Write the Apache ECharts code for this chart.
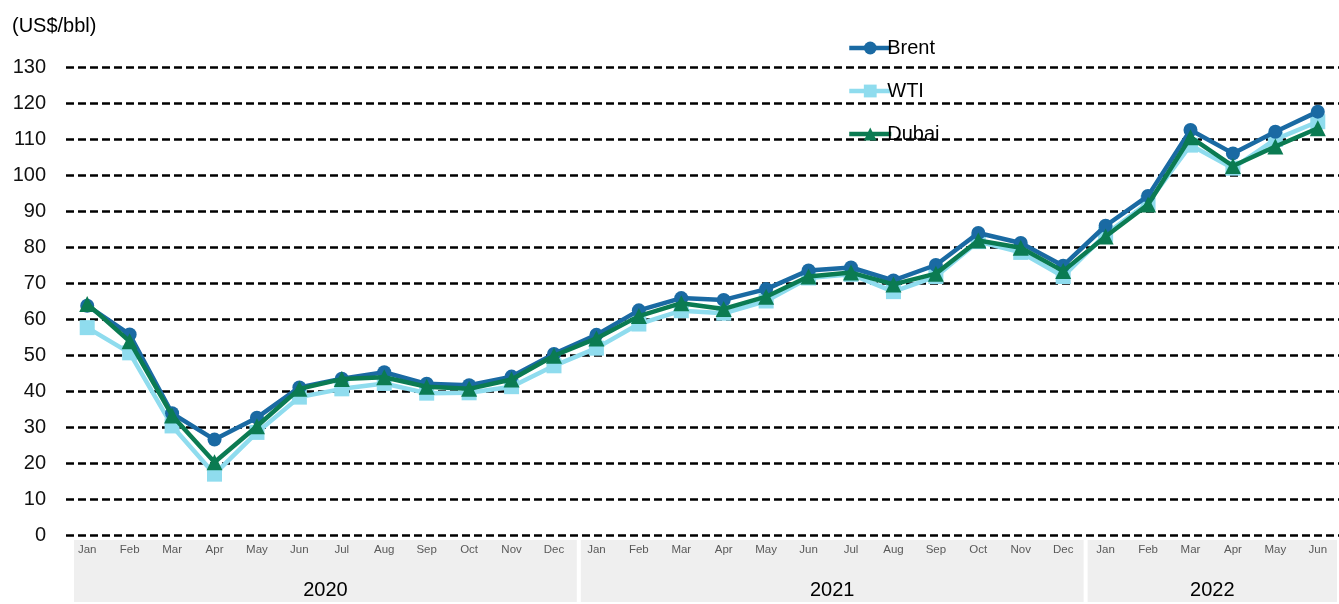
<!DOCTYPE html>
<html>
<head>
<meta charset="utf-8">
<script src="https://cdn.jsdelivr.net/npm/echarts@6/dist/echarts.min.js"></script>
<style>
  html, body { margin: 0; padding: 0; background: #fff; }
  #chart { width: 1339px; height: 604px; }
</style>
</head>
<body>
<div id="chart"></div>
<script>
// Monthly crude oil prices, Jan 2020 - Jun 2022 (US$/bbl)
const months = [
  'Jan','Feb','Mar','Apr','May','Jun','Jul','Aug','Sep','Oct','Nov','Dec',
  'Jan','Feb','Mar','Apr','May','Jun','Jul','Aug','Sep','Oct','Nov','Dec',
  'Jan','Feb','Mar','Apr','May','Jun'
];
const years = ['2020', '2021', '2022'];
const monthsPerYear = [12, 12, 6];

const brent = [
  63.7, 55.7, 33.8, 26.5, 32.6, 41.0, 43.4, 45.2, 42.0, 41.6, 44.0, 50.3,
  55.6, 62.4, 65.8, 65.3, 68.3, 73.5, 74.3, 70.7, 75.0, 83.9, 81.1, 74.8,
  85.9, 94.2, 112.5, 106.0, 112.0, 117.6
];
const wti = [
  57.6, 50.6, 30.3, 16.9, 28.5, 38.3, 40.6, 42.1, 39.4, 39.5, 41.2, 47.0,
  51.9, 58.6, 62.3, 61.6, 65.0, 71.4, 72.4, 67.6, 71.8, 81.5, 78.5, 71.8,
  83.5, 92.3, 108.3, 101.9, 109.9, 114.8
];
const dubai = [
  64.2, 53.8, 33.2, 20.2, 30.2, 40.6, 43.3, 43.8, 41.2, 40.6, 43.2, 49.8,
  54.6, 60.8, 64.4, 62.8, 66.2, 71.8, 72.9, 69.6, 72.6, 81.8, 79.8, 73.3,
  82.9, 91.8, 110.5, 102.5, 107.9, 113.0
];

const COLORS = { brent: '#1a6aa3', wti: '#8fdcee', dubai: '#0b7b52' };
const FONT = '"Liberation Sans", Arial, sans-serif';

const chart = echarts.init(document.getElementById('chart'), null, { renderer: 'canvas' });

// Grey year bands under the month labels, one stacked bar per year
const yearBands = years.map((y, i) => ({
  name: y,
  type: 'bar',
  xAxisIndex: 1,
  yAxisIndex: 1,
  stack: 'years',
  barWidth: '100%',
  z: 1,
  silent: true,
  data: [monthsPerYear[i]],
  itemStyle: { color: '#efefef', borderColor: '#ffffff', borderWidth: 2 },
  label: {
    show: true,
    position: 'insideBottom',
    distance: 4,
    formatter: '{a}',
    fontFamily: FONT,
    fontSize: 20,
    color: '#000'
  }
}));

function priceSeries(name, data, color, symbol, size, z) {
  return {
    name, type: 'line', data, z,
    xAxisIndex: 0, yAxisIndex: 0,
    symbol, symbolSize: size,
    showSymbol: true,
    lineStyle: { color, width: 4.5 },
    itemStyle: { color },
    emphasis: { disabled: true },
    animation: false
  };
}

chart.setOption({
  animation: false,
  backgroundColor: '#fff',
  textStyle: { fontFamily: FONT },
  title: {
    text: '(US$/bbl)',
    left: 7, top: 11,
    textStyle: { fontFamily: FONT, fontSize: 20, fontWeight: 'normal', color: '#000' }
  },
  legend: {
    data: ['Brent', 'WTI', 'Dubai'],
    orient: 'vertical',
    left: 842, top: 33,
    itemWidth: 42, itemHeight: 16,
    itemGap: 23,
    lineStyle: { width: 4.5 },
    textStyle: { fontFamily: FONT, fontSize: 20, color: '#000', padding: [0, 0, 0, -9] }
  },
  grid: [
    { left: 66, top: 67, width: 1281, height: 468 },
    { left: 72, top: 538, width: 1278, height: 70 }
  ],
  xAxis: [
    {
      type: 'category', gridIndex: 0, data: months, boundaryGap: true, z: 10,
      axisLine: { show: false }, axisTick: { show: false },
      axisLabel: { interval: 0, margin: 9, fontFamily: FONT, fontSize: 11.5, color: '#595959' },
      splitLine: { show: false }
    },
    {
      type: 'value', gridIndex: 1, min: 0, max: 30, show: false
    }
  ],
  yAxis: [
    {
      type: 'value', gridIndex: 0, min: 0, max: 130, interval: 10,
      axisLine: { show: false }, axisTick: { show: false },
      axisLabel: { margin: 20, fontFamily: FONT, fontSize: 20, color: '#111' },
      splitLine: { show: true, lineStyle: { color: '#000', width: 2.5, type: [8, 4] } }
    },
    {
      type: 'category', gridIndex: 1, data: [''], show: false
    }
  ],
  series: [
    priceSeries('Brent', brent, COLORS.brent, 'circle', 14, 4),
    priceSeries('WTI', wti, COLORS.wti, 'rect', 15, 3),
    priceSeries('Dubai', dubai, COLORS.dubai, 'triangle', 16, 5),
    ...yearBands
  ]
});
</script>
</body>
</html>
